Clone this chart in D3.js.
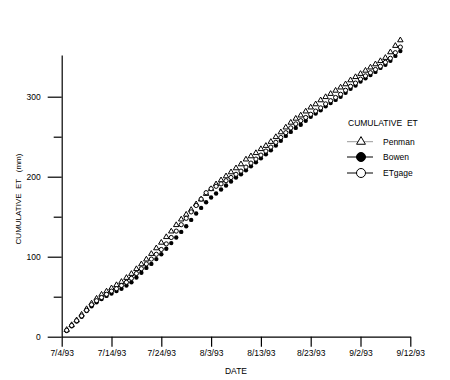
<!DOCTYPE html>
<html>
<head>
  <title>Cumulative ET</title>
  <script src="https://d3js.org/d3.v7.min.js"></script>
  <style>
    body { margin: 0; background: #fff; }
    text { font-family: "Liberation Sans", Arial, sans-serif; fill: #000; }
  </style>
</head>
<body>
  <div id="chart"></div>
  <script>
    // days after 7/4/93, one reading per day
    const days = d3.range(1, 69);
    const penman = [8, 14, 20, 27, 34, 41, 47, 52, 56, 60, 64, 68, 73, 78, 84, 90, 96, 103, 110, 117,
      124, 131, 139, 146, 152, 158, 165, 171, 178, 184, 190, 195, 200, 205, 210, 215, 221, 225, 229, 234,
      238, 243, 249, 255, 261, 267, 272, 276, 281, 286, 290, 295, 299, 303, 307, 311, 315, 320, 324, 328,
      332, 336, 340, 344, 348, 355, 363, 370];
    const bowen = [7, 13, 19, 25, 32, 38, 43, 47, 51, 54, 57, 60, 64, 68, 74, 80, 86, 91, 97, 103,
      110, 117, 124, 131, 138, 146, 154, 161, 168, 174, 179, 184, 189, 194, 199, 203, 208, 213, 218, 223,
      228, 233, 239, 245, 251, 256, 261, 265, 270, 275, 279, 283, 288, 292, 296, 300, 305, 310, 314, 319,
      323, 327, 331, 336, 340, 345, 351, 357];
    const etgage = [8, 14, 20, 26, 33, 40, 45, 49, 53, 57, 60, 64, 68, 73, 79, 85, 91, 97, 103, 109,
      116, 124, 132, 140, 148, 156, 164, 172, 180, 185, 188, 191, 195, 199, 203, 207, 212, 217, 222, 227,
      232, 237, 243, 249, 255, 261, 266, 270, 274, 278, 282, 286, 291, 295, 299, 303, 308, 313, 317, 322,
      326, 330, 334, 338, 343, 348, 355, 362];
    const xTickDates = ["1993-07-04", "1993-07-14", "1993-07-24", "1993-08-03", "1993-08-13",
      "1993-08-23", "1993-09-02", "1993-09-12"];
    const yMajor = [0, 100, 200, 300];
    const yMinor = [50, 150, 250];
    const legendNames = ["Penman", "Bowen", "ETgage"];

    const W = 450, H = 380;
    const start = new Date(1993, 6, 4);
    const parse = d3.timeParse("%Y-%m-%d");
    const dayDate = d => d3.timeDay.offset(start, d);

    const svg = d3.select("#chart").append("svg")
      .attr("width", W).attr("height", H);

    const x = d3.scaleTime()
      .domain([start, parse("1993-09-12")])
      .range([61.7, 410.3]);
    const y = d3.scaleLinear()
      .domain([0, 352])
      .range([336.7, 55.1]);

    const fmt = d => (d.getMonth() + 1) + "/" + d.getDate() + "/" + d3.timeFormat("%y")(d);

    // x axis
    const gx = svg.append("g")
      .attr("transform", "translate(0," + y(0) + ")")
      .call(d3.axisBottom(x).tickValues(xTickDates.map(parse)).tickFormat(fmt)
        .tickSize(10).tickSizeOuter(0).tickPadding(3));
    gx.selectAll("text").style("font-size", "8.5px");

    // y axis, labelled majors and short minors
    const gy = svg.append("g")
      .attr("transform", "translate(" + x(start) + ",0)")
      .call(d3.axisLeft(y).tickValues(yMajor).tickSize(14).tickSizeOuter(0).tickPadding(7));
    gy.selectAll("text").style("font-size", "8.5px");
    svg.append("g")
      .attr("transform", "translate(" + x(start) + ",0)")
      .call(d3.axisLeft(y).tickValues(yMinor).tickSize(8).tickSizeOuter(0).tickFormat(""))
      .select(".domain").remove();
    svg.selectAll(".domain, .tick line").attr("stroke", "#000").attr("stroke-width", 1.2);

    svg.append("text")
      .attr("x", 236).attr("y", 373.5)
      .attr("text-anchor", "middle")
      .style("font-size", "8.5px")
      .text("DATE");
    svg.append("text")
      .attr("transform", "translate(21,199) rotate(-90)")
      .attr("text-anchor", "middle")
      .style("font-size", "8px")
      .attr("xml:space", "preserve")
      .style("white-space", "pre")
      .text("CUMULATIVE  ET   (mm)");

    const tri = d3.symbol().type(d3.symbolTriangle);

    // Penman triangles
    svg.append("g").selectAll("path")
      .data(days)
      .join("path")
      .attr("d", tri.size(13))
      .attr("transform", (d, i) => "translate(" + x(dayDate(d)) + "," + (y(penman[i]) - 0.5) + ")")
      .attr("fill", "#fff").attr("stroke", "#000").attr("stroke-width", 1);

    // Bowen filled circles
    svg.append("g").selectAll("circle")
      .data(days)
      .join("circle")
      .attr("cx", d => x(dayDate(d)))
      .attr("cy", (d, i) => y(bowen[i]))
      .attr("r", 2.2)
      .attr("fill", "#000");

    // ETgage open circles
    svg.append("g").selectAll("circle")
      .data(days)
      .join("circle")
      .attr("cx", d => x(dayDate(d)))
      .attr("cy", (d, i) => y(etgage[i]))
      .attr("r", 2.1)
      .attr("fill", "#fff").attr("stroke", "#000").attr("stroke-width", 1);

    // legend
    const lg = svg.append("g").attr("transform", "translate(347,0)");
    lg.append("text").attr("x", 1).attr("y", 126)
      .style("font-size", "8.5px").text("CUMULATIVE  ET")
      .attr("xml:space", "preserve").style("white-space", "pre");
    const rowY = [141.7, 157, 173];
    legendNames.forEach((name, i) => {
      const g = lg.append("g").attr("transform", "translate(0," + rowY[i] + ")");
      g.append("line").attr("x1", 0).attr("x2", 26)
        .attr("stroke", i === 0 ? "#999" : "#000").attr("stroke-width", 1);
      if (i === 0) {
        g.append("path").attr("d", d3.symbol().type(d3.symbolTriangle).size(34)())
          .attr("transform", "translate(14,0)")
          .attr("fill", "#fff").attr("stroke", "#000");
      } else {
        g.append("circle").attr("cx", 14).attr("r", 4.5)
          .attr("fill", i === 1 ? "#000" : "#fff").attr("stroke", "#000");
      }
      g.append("text").attr("x", 36).attr("y", 3)
        .style("font-size", "8.5px").text(name);
    });
  </script>
</body>
</html>
